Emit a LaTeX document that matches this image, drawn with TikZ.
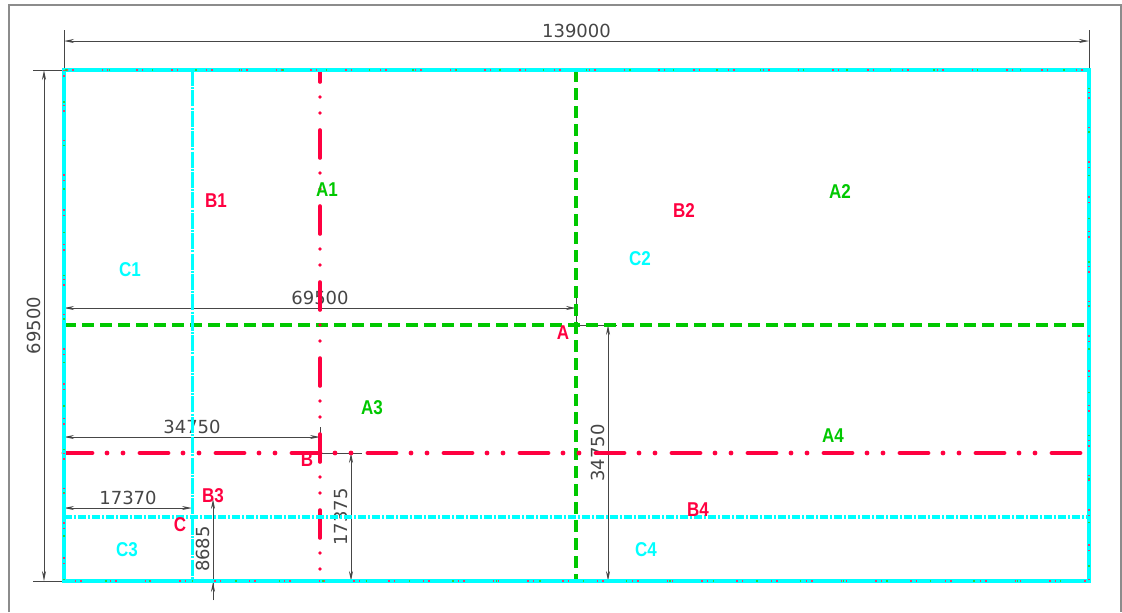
\documentclass[tikz,border=0pt]{standalone}
\usepackage{amsmath}
\usepackage{tikz}
\usepackage{color}
\usepackage{fontspec}
\setmainfont{DejaVu Sans}
\newfontfamily\labfont{Liberation Sans}
\usetikzlibrary{arrows.meta}
\usetikzlibrary{calc}

\definecolor{cadred}{RGB}{255,0,64}
\definecolor{cadgreen}{RGB}{0,200,0}
\definecolor{cadcyan}{RGB}{0,255,255}
\definecolor{dimgray}{RGB}{70,70,70}
\definecolor{framegray}{RGB}{140,140,140}

\tikzset{
	dimline/.style={dimgray,line width=0.5pt},
	dimtext/.style={text=dimgray,font=\fontsize{9}{9}\selectfont,inner sep=1.5pt},
	labred/.style={text=cadred,font=\labfont\bfseries\fontsize{10}{10}\selectfont,xscale=0.85,inner sep=0pt},
	labg/.style={labred,text=cadgreen},
	labc/.style={labred,text=cadcyan},
	redaxisv/.style={cadred,line width=1.8pt,line cap=round,dash pattern=on 14pt off 7.5pt on 0pt off 8pt on 0pt off 8.5pt,dash phase=8pt},
	redaxish/.style={cadred,line width=2.4pt,line cap=round,dash pattern=on 14pt off 7.5pt on 0pt off 8pt on 0pt off 8.5pt},
	greenaxis/.style={cadgreen,line width=2pt,dash pattern=on 6pt off 3pt},
	cyanaxisv/.style={cadcyan,line width=1.5pt,dash pattern=on 8pt off 0.6pt on 1pt off 0.6pt},
	cyanaxish/.style={cadcyan,line width=2pt,dash pattern=on 4pt off 1pt on 1pt off 1pt}
}

\begin{document}
\begin{tikzpicture}[x=0.5pt,y=-0.5pt,>={Stealth[length=5pt,width=2pt]}]
\useasboundingbox (0,0) rectangle (1122,612);
\fill [white] (0,0) rectangle (1122,612);
\draw [framegray,line width=0.8pt] (9,612) -- (9,5) -- (1121,5) -- (1121,612);

\coordinate (nw) at (64,70);
\coordinate (ne) at (1089,70);
\coordinate (sw) at (64,581);
\coordinate (se) at (1089,581);
\coordinate (ptA) at (576,325);
\coordinate (ptB) at (320,453);
\coordinate (ptC) at (192,517);

			% Cotes
\draw [dimline] (64,30) -- (nw);
\draw [dimline] (1089,30) -- (ne);
\draw [dimline,<->] (64,41) -- (1089,41) node [dimtext,midway,above] (dL) {139000};
\draw [dimline] (33,70) -- (nw);
\draw [dimline] (33,581) -- (sw);
\draw [dimline,<->] (44,70) -- (44,581) node [dimtext,midway,rotate=90,anchor=south] (dH) {69500};
\draw [dimline] (576,296) -- (ptA);
\draw [dimline,<->] (64,308) -- (576,308) node [dimtext,midway,above] (dA) {69500};
\draw [dimline] (320,427) -- (ptB);
\draw [dimline,<->] (64,437) -- (320,437) node [dimtext,midway,above] (dB) {34750};
\draw [dimline,<->] (64,508) -- (192,508) node [dimtext,midway,above] (dC) {17370};
\draw [dimline] (ptB) -- (362,453);
\draw [dimline,<->] (351,453) -- (351,581) node [dimtext,midway,rotate=90,anchor=south] (dBv) {17375};
\draw [dimline] (ptA) -- (617,325);
\draw [dimline,<->] (608,325) -- (608,581) node [dimtext,midway,rotate=90,anchor=south] (dAv) {34750};
\draw [dimline,->] (213,600) -- (213,499);
\draw [dimline,->] (213,600) -- (213,582);
\draw (213,549) node [dimtext,rotate=90,anchor=south] (dCv) {8685};

			% Axes
\draw [greenaxis] (ptA |- nw) -- (ptA |- sw);
\draw [greenaxis] (ptA -| nw) -- (ptA -| ne);
\draw [redaxisv] (ptB |- nw) -- (ptB |- sw);
\draw [redaxish] (ptB -| nw) -- (ptB -| ne);
\draw [cyanaxisv] (ptC |- nw) -- (ptC |- sw);
\draw [cyanaxish] (ptC -| nw) -- (ptC -| ne);
\draw [cadcyan,line width=2pt] (nw) rectangle (se);
\draw [cadred!80,line width=1pt,dash pattern=on 0.7pt off 2pt on 0.7pt off 14pt] (nw) rectangle (se);
\draw [cadgreen!80,line width=1pt,dash pattern=on 0.7pt off 21pt,dash phase=6pt] (nw) rectangle (se);

			% Zones
\draw (327,190) node [labg] (lA1) {A1};
\draw (840,192) node [labg] (lA2) {A2};
\draw (372,408) node [labg] (lA3) {A3};
\draw (833,436) node [labg] (lA4) {A4};
\draw (216,201) node [labred] (lB1) {B1};
\draw (684,211) node [labred] (lB2) {B2};
\draw (213,496) node [labred] (lB3) {B3};
\draw (698,510) node [labred] (lB4) {B4};
\draw (130,270) node [labc] (lC1) {C1};
\draw (640,259) node [labc] (lC2) {C2};
\draw (127,550) node [labc] (lC3) {C3};
\draw (646,550) node [labc] (lC4) {C4};
\draw (563,333) node [labred] (lA) {A};
\draw (307,460) node [labred] (lB) {B};
\draw (180,525) node [labred] (lC) {C};
			\end{tikzpicture}
\end{document}
